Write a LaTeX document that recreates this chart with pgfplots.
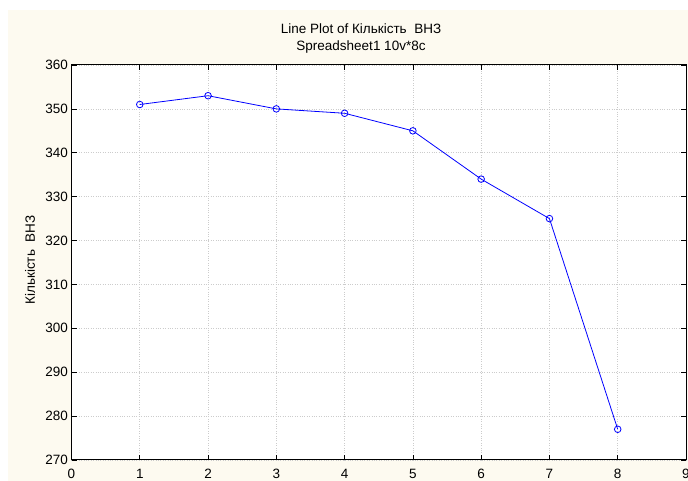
\documentclass[border=0pt]{standalone}
\usepackage{fontspec}
\setmainfont{Liberation Sans}
\usepackage{pgfplots}
\pgfplotsset{compat=1.18}
\definecolor{bgbeige}{RGB}{253,250,240}
\begin{document}
\begin{tikzpicture}[x=1pt,y=1pt]
\path[use as bounding box] (0,0) rectangle (688,481);
\fill[white] (0,0) rectangle (688,481);
\fill[bgbeige] (8,0) rectangle (688,471);
\begin{axis}[
  at={(71.5pt,21pt)}, anchor=south west,
  scale only axis, width=614.5pt, height=395pt,
  xmin=0, xmax=9, ymin=270, ymax=360,
  xtick={0,...,9}, ytick={270,280,...,360},
  axis background/.style={fill=white},
  grid=major,
  major grid style={dotted, gray!40, line width=0.6pt},
  tick align=inside,
  major tick length=5pt,
  xtick pos=both, ytick pos=both,
  axis line style={black, line width=1pt},
  tick style={black, line width=0.6pt},
  ticklabel style={font=\fontsize{13.5}{15}\selectfont},
  /pgf/number format/assume math mode=true,
  /pgf/number format/1000 sep={},
  xticklabel style={yshift=-6pt},
  clip=false,
]
\addplot[blue, line width=0.8pt, mark=o, mark size=3.3pt, mark options={solid, fill=white, line width=0.8pt}]
coordinates {(1,351) (2,353) (3,350) (4,349) (5,345) (6,334) (7,325) (8,277)};
\end{axis}
\node[font=\fontsize{13.5}{15}\selectfont] at (361,452) {Line Plot of Кількість\ \ ВНЗ};
\node[font=\fontsize{13.5}{15}\selectfont] at (361,433.5) {Spreadsheet1 10v*8c};
\node[rotate=90, font=\fontsize{13.5}{15}\selectfont] at (30,221) {Кількість\ \ ВНЗ};
\end{tikzpicture}
\end{document}
